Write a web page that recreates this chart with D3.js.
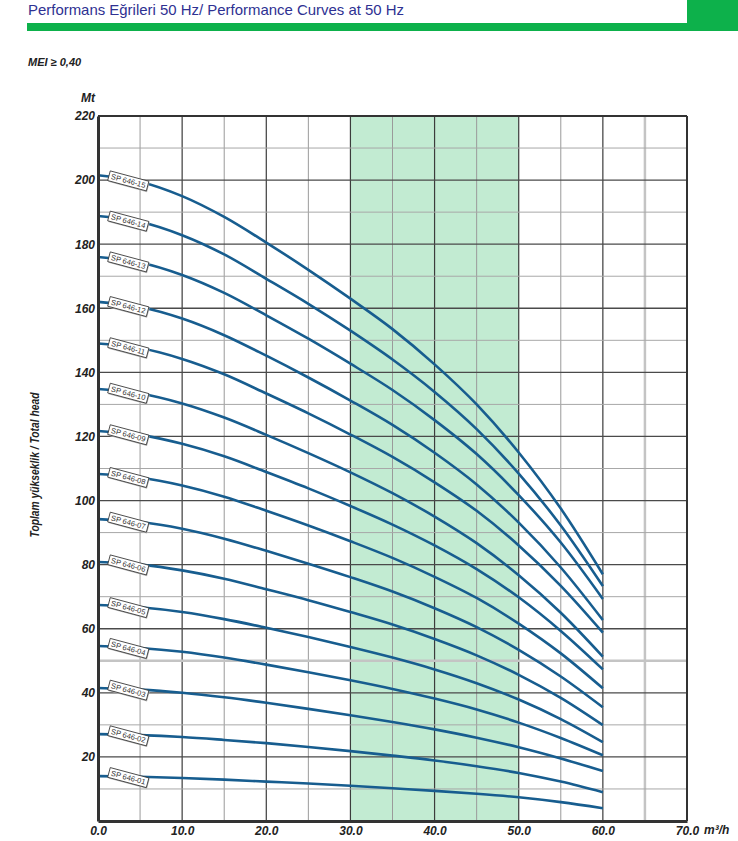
<!DOCTYPE html>
<html><head><meta charset="utf-8">
<script src="https://cdn.jsdelivr.net/npm/d3@7"></script>
<style>
body{margin:0;background:#fff}
text{font-family:'Liberation Sans Narrow','Arial Narrow','Liberation Sans',Arial,sans-serif}
</style>
</head><body>
<svg id="c" width="738" height="841"></svg>
<script>
// ---------- DATA ----------
const flow = [0,5,10,15,20,25,30,35,40,45,50,55,60];           // m³/h
const models = ["SP 646-01","SP 646-02","SP 646-03","SP 646-04","SP 646-05","SP 646-06","SP 646-07","SP 646-08","SP 646-09","SP 646-10","SP 646-11","SP 646-12","SP 646-13","SP 646-14","SP 646-15"];
const head01 = [14.0,13.8,13.4,12.9,12.3,11.7,11.0,10.2,9.4,8.5,7.4,5.9,4.0];
const head02 = [27.1,26.8,26.2,25.3,24.3,23.1,21.8,20.4,18.9,17.1,15.0,12.3,9.0];
const head03 = [41.5,41.0,40.0,38.6,36.9,35.0,33.0,30.9,28.6,26.0,23.0,19.5,15.6];
const head04 = [54.6,54.0,52.8,51.0,48.8,46.4,43.9,41.2,38.2,34.8,30.7,25.9,20.5];
const head05 = [67.4,66.7,65.2,63.0,60.3,57.4,54.3,51.0,47.3,43.0,37.9,31.8,24.6];
const head06 = [80.8,80.0,78.2,75.6,72.3,68.9,65.2,61.3,56.8,51.7,45.6,38.4,29.9];
const head07 = [94.2,93.3,91.2,88.1,84.3,80.3,76.1,71.6,66.4,60.5,53.4,45.1,35.5];
const head08 = [108.3,107.2,104.7,101.2,96.8,92.2,87.3,82.1,76.2,69.6,61.6,52.3,41.4];
const head09 = [121.7,120.5,117.7,113.8,108.9,103.8,98.3,92.5,86.0,78.6,69.8,59.3,47.3];
const head10 = [134.8,133.4,130.3,125.9,120.5,114.8,108.8,102.3,95.0,86.7,76.7,65.0,51.3];
const head11 = [149.0,147.6,144.2,139.4,133.4,127.2,120.6,113.6,105.7,96.8,86.0,73.4,58.8];
const head12 = [162.0,160.4,156.8,151.6,145.2,138.4,131.2,123.6,114.9,105.0,93.1,79.1,62.7];
const head13 = [176.0,174.3,170.4,164.8,157.8,150.5,142.7,134.5,125.1,114.5,101.7,86.9,69.3];
const head14 = [188.8,187.0,182.8,176.8,169.2,161.4,153.0,144.0,133.9,122.3,108.4,92.2,73.3];
const head15 = [201.5,199.5,195.0,188.5,180.5,172.0,163.0,153.5,142.5,130.0,115.0,97.5,77.0];
const heads = [head01,head02,head03,head04,head05,head06,head07,head08,head09,head10,head11,head12,head13,head14,head15];
const xTicks = [0,10,20,30,40,50,60,70];
const yTicks = [20,40,60,80,100,120,140,160,180,200,220];
const bestRange = [30,50];
const labelFlow = 3.6;
const title = "Performans Eğrileri 50 Hz/ Performance Curves at 50 Hz";
const meiText = "MEI ≥ 0,40";
const yUnit = "Mt", xUnit = "m³/h";
const yTitle = "Toplam yükseklik / Total head";

// ---------- DRAW ----------
const svg = d3.select("#c");
const x = d3.scaleLinear([0,70],[98,687]);
const y = d3.scaleLinear([0,220],[821,116]);
const green = "#0db14b", curveCol = "#175d8f";

// header
svg.append("rect").attr("x",687).attr("y",0).attr("width",51).attr("height",23).attr("fill",green);
svg.append("rect").attr("x",27).attr("y",23).attr("width",711).attr("height",8).attr("fill",green);
svg.append("text").attr("x",28).attr("y",15).attr("font-size",15).attr("fill","#2e3192")
  .attr("textLength",376).attr("lengthAdjust","spacingAndGlyphs").text(title);
svg.append("text").attr("x",28).attr("y",66).attr("font-size",11).attr("font-weight","bold")
  .attr("font-style","italic").attr("fill","#222").text(meiText);

// best efficiency band
svg.append("rect").attr("x",x(bestRange[0])).attr("y",y(220))
  .attr("width",x(bestRange[1])-x(bestRange[0])).attr("height",y(0)-y(220)).attr("fill","#c2ebd2");

// grid
const g = svg.append("g");
d3.range(5,70,5).forEach(v=>{
  const major = v%10===0;
  let col = major ? "#3c3c3c" : "#9a9a9a", w = major?1.2:1;
  if (v===65){col="#c4c4c4"; w=2.5;}
  g.append("line").attr("x1",x(v)).attr("x2",x(v)).attr("y1",y(0)).attr("y2",y(220))
   .attr("stroke",col).attr("stroke-width",w);
});
d3.range(10,220,10).forEach(v=>{
  const major = v%20===0;
  let col = major ? "#4a4a4a" : "#a8a8a8", w = major?1.3:1;
  if (v===50){col="#c4c4c4"; w=2.5;}
  g.append("line").attr("x1",x(0)).attr("x2",x(70)).attr("y1",y(v)).attr("y2",y(v))
   .attr("stroke",col).attr("stroke-width",w);
});

// curves
const line = d3.line().x(d=>x(d[0])).y(d=>y(d[1])).curve(d3.curveMonotoneX);
heads.forEach(h=>{
  svg.append("path").datum(flow.map((q,i)=>[q,h[i]])).attr("d",line)
    .attr("fill","none").attr("stroke",curveCol).attr("stroke-width",2.6);
});

// labels
function interp(h,q){
  const i = d3.bisectRight(flow,q)-1;
  const t = (q-flow[i])/(flow[i+1]-flow[i]);
  return h[i]+(h[i+1]-h[i])*t;
}
heads.forEach((h,k)=>{
  const lg = svg.append("g").attr("transform",`translate(${x(labelFlow)},${y(interp(h,labelFlow))+1}) rotate(15)`);
  lg.append("rect").attr("x",-19).attr("y",-4).attr("width",40).attr("height",10).attr("fill","#b8b8b8");
  lg.append("rect").attr("x",-20).attr("y",-5).attr("width",40).attr("height",10)
    .attr("fill","#fff").attr("stroke","#333").attr("stroke-width",0.8);
  lg.append("text").attr("x",0).attr("y",2.6).attr("text-anchor","middle").attr("font-size",7.5)
    .attr("fill","#333").style("font-family","'Liberation Sans',Arial,sans-serif").text(models[k]);
});

// frame
svg.append("line").attr("x1",x(0)).attr("x2",x(70)).attr("y1",y(220)).attr("y2",y(220)).attr("stroke","#333").attr("stroke-width",2);
svg.append("line").attr("x1",x(70)).attr("x2",x(70)).attr("y1",y(220)).attr("y2",y(0)).attr("stroke","#333").attr("stroke-width",2);

// axes
const ax = svg.append("g").attr("transform",`translate(0,${y(0)})`)
  .call(d3.axisBottom(x).tickValues(xTicks).tickFormat(d3.format(".1f")).tickSize(0).tickPadding(5));
const ay = svg.append("g").attr("transform",`translate(${x(0)},0)`)
  .call(d3.axisLeft(y).tickValues(yTicks).tickFormat(d3.format("d")).tickSize(0).tickPadding(3));
[ax,ay].forEach(a=>{
  a.select(".domain").attr("stroke","#333").attr("stroke-width",3);
  a.selectAll("text").attr("font-size",12).attr("font-weight","bold").attr("font-style","italic")
   .attr("fill","#222").style("font-family","'Liberation Sans Narrow','Arial Narrow','Liberation Sans',Arial,sans-serif");
});
svg.append("text").attr("x",95).attr("y",102).attr("text-anchor","end").attr("font-size",12)
  .attr("font-weight","bold").attr("font-style","italic").attr("fill","#222").text(yUnit);
svg.append("text").attr("x",704).attr("y",834).attr("font-size",12)
  .attr("font-weight","bold").attr("font-style","italic").attr("fill","#222").text(xUnit);
svg.append("text").attr("transform","translate(39,465) rotate(-90)").attr("text-anchor","middle")
  .attr("font-size",12).attr("font-weight","bold").attr("font-style","italic").attr("fill","#222")
  .attr("textLength",145).attr("lengthAdjust","spacingAndGlyphs").text(yTitle);
</script>
</body></html>
